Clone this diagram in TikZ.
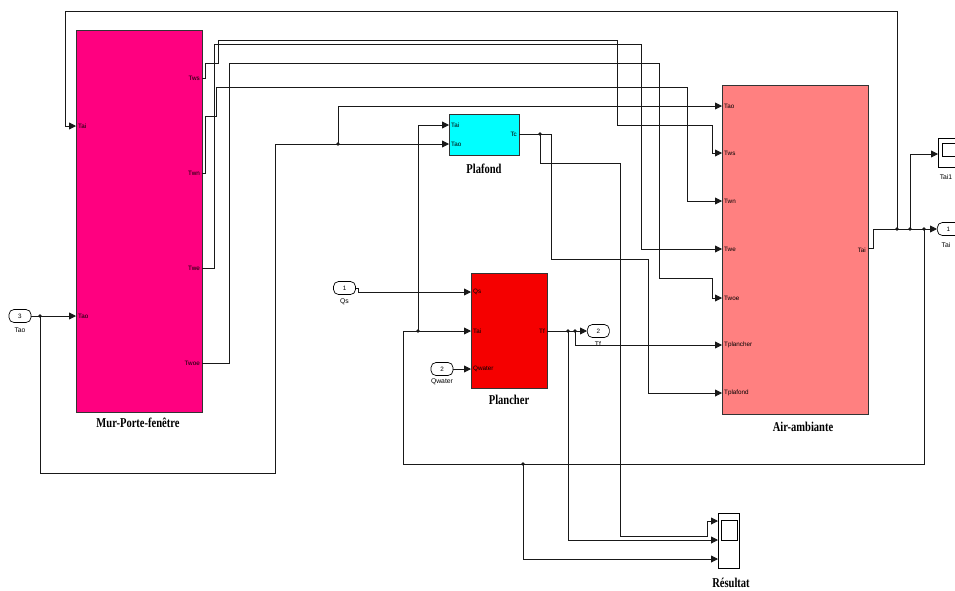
\documentclass[tikz,border=0pt]{standalone}
\usepackage{fontspec}
\setmainfont{Liberation Serif}
\setsansfont{Liberation Sans}
\usetikzlibrary{arrows.meta}
\definecolor{murc}{RGB}{255,0,128}
\definecolor{airc}{RGB}{255,128,128}
\definecolor{plac}{RGB}{0,255,255}
\definecolor{plnc}{RGB}{245,0,0}
\definecolor{wirec}{RGB}{25,25,25}
\begin{document}
\begin{tikzpicture}[x=1pt,y=-1pt,
  blk/.style={draw=black!80, line width=0.9pt, inner sep=0pt, outer sep=0pt, anchor=north west},
  plbl/.style={font=\sffamily\fontsize{6.3}{6.3}\selectfont, inner sep=1pt},
  blbl/.style={font=\bfseries\fontsize{13.5}{13.5}\selectfont, inner sep=0pt},
  wire/.style={draw=wirec, line width=0.85pt},
  arr/.style={wire, -{Triangle[length=7pt,width=7pt]}},
  jdot/.style={circle, fill=wirec, inner sep=0pt, minimum size=3.6pt},
  iport/.style={draw=black, line width=0.7pt, rounded corners=5pt, minimum width=22pt, minimum height=13pt, inner sep=0pt, font=\sffamily\fontsize{6.3}{6.3}\selectfont, fill=white},
  ilbl/.style={font=\sffamily\fontsize{6.8}{6.8}\selectfont, inner sep=0pt},
]
\clip (0,0) rectangle (955,590);
\fill[white] (0,0) rectangle (955,590);

% ---------- blocks ----------
\node[blk, fill=murc, minimum width=126pt, minimum height=382pt] (mur) at (76,30) {};
\node[blk, fill=airc, minimum width=146pt, minimum height=329pt] (air) at (722,85) {};
\node[blk, fill=plac, minimum width=70pt, minimum height=41pt] (pf) at (449,114) {};
\node[blk, fill=plnc, minimum width=76pt, minimum height=115pt] (pl) at (471,273) {};

% block titles
\node[blbl] (t-mur) at (138,423) {\scalebox{0.78}[1]{Mur-Porte-fenêtre}};
\node[blbl] (t-air) at (803,427) {\scalebox{0.78}[1]{Air-ambiante}};
\node[blbl] (t-pf) at (484,169) {\scalebox{0.78}[1]{Plafond}};
\node[blbl] (t-pl) at (509,400) {\scalebox{0.78}[1]{Plancher}};

% ---------- port coordinates ----------
\coordinate (mur-tai) at (76,126);
\coordinate (mur-tao) at (76,316);
\coordinate (mur-tws) at (202,78);
\coordinate (mur-twn) at (202,173);
\coordinate (mur-twe) at (202,268);
\coordinate (mur-twoe) at (202,363);
\coordinate (air-tao) at (722,106);
\coordinate (air-tws) at (722,153);
\coordinate (air-twn) at (722,201);
\coordinate (air-twe) at (722,249);
\coordinate (air-twoe) at (722,298);
\coordinate (air-tpl) at (722,345);
\coordinate (air-tpf) at (722,393);
\coordinate (air-tai) at (868,248);
\coordinate (pf-tai) at (449,125);
\coordinate (pf-tao) at (449,144);
\coordinate (pf-tc) at (519,134);
\coordinate (pl-qs) at (471,292);
\coordinate (pl-tai) at (471,331);
\coordinate (pl-qw) at (471,369);
\coordinate (pl-tf) at (547,331);

% port labels
\node[plbl, anchor=west] (l-mur-tai) at (77,126) {Tai};
\node[plbl, anchor=west] (l-mur-tao) at (77,316) {Tao};
\node[plbl, anchor=east] (l-mur-tws) at (201,78) {Tws};
\node[plbl, anchor=east] (l-mur-twn) at (201,173) {Twn};
\node[plbl, anchor=east] (l-mur-twe) at (201,268) {Twe};
\node[plbl, anchor=east] (l-mur-twoe) at (201,363) {Twoe};
\node[plbl, anchor=west] (l-air-tao) at (723,106) {Tao};
\node[plbl, anchor=west] (l-air-tws) at (723,153) {Tws};
\node[plbl, anchor=west] (l-air-twn) at (723,201) {Twn};
\node[plbl, anchor=west] (l-air-twe) at (723,249) {Twe};
\node[plbl, anchor=west] (l-air-twoe) at (723,298) {Twoe};
\node[plbl, anchor=west] (l-air-tpl) at (723,345) {Tplancher};
\node[plbl, anchor=west] (l-air-tpf) at (723,393) {Tplafond};
\node[plbl, anchor=east] (l-air-tai) at (867,250) {Tai};
\node[plbl, anchor=west] (l-pf-tai) at (450,125) {Tai};
\node[plbl, anchor=west] (l-pf-tao) at (450,144) {Tao};
\node[plbl, anchor=east] (l-pf-tc) at (518,134) {Tc};
\node[plbl, anchor=west] (l-pl-qs) at (472,292) {Qs};
\node[plbl, anchor=west] (l-pl-tai) at (472,331) {Tai};
\node[plbl, anchor=west] (l-pl-qw) at (472,369) {Qwater};
\node[plbl, anchor=east] (l-pl-tf) at (546,331) {Tf};

% ---------- in / out ports ----------
\node[iport] (in3) at (20,316) {3};
\node[ilbl] (l-in3) at (20,330) {Tao};
\node[iport] (in1) at (344.5,288) {1};
\node[ilbl] (l-in1) at (344.5,302) {Qs};
\node[iport] (in2) at (442,369) {2};
\node[ilbl] (l-in2) at (442,382) {Qwater};
\node[iport, anchor=west] (out2) at (587,331) {2};
\node[ilbl] (l-out2) at (598,344) {Tf};
\node[iport, anchor=west, minimum width=26pt] (out1) at (937,229) {\hspace*{-4pt}1};
\node[ilbl] (l-out1) at (946,245) {Tai};

% scopes
\node[draw=black, line width=0.7pt, fill=white, minimum width=26pt, minimum height=29pt, inner sep=0pt, anchor=north west] (sc1) at (938,138) {};
\node[draw=black, line width=0.7pt, minimum width=20pt, minimum height=13pt, inner sep=0pt, anchor=north west] (sc1s) at (942,143) {};
\node[ilbl] (l-sc1) at (946,177) {Tai1};
\node[draw=black, line width=0.7pt, fill=white, minimum width=21pt, minimum height=55pt, inner sep=0pt, anchor=north west] (res) at (718,513) {};
\node[draw=black, line width=0.7pt, minimum width=16pt, minimum height=20pt, inner sep=0pt, anchor=north west] (ress) at (721,520) {};
\node[blbl] (l-res) at (731,583) {\scalebox{0.78}[1]{Résultat}};
\coordinate (res-in1) at (718,521);
\coordinate (res-in2) at (718,540);
\coordinate (res-in3) at (718,559);
\coordinate (sc1-in) at (938,154);

% ---------- junction dots ----------
\node[jdot] (j-tao) at (40,316) {};
\node[jdot] (j-tao2) at (338,144) {};
\node[jdot] (j-tai1) at (897,229) {};
\node[jdot] (j-tai2) at (910,229) {};
\node[jdot] (j-tai3) at (924,229) {};
\node[jdot] (j-tai4) at (418,331) {};
\node[jdot] (j-tai5) at (523,464) {};
\node[jdot] (j-tc) at (540,134) {};
\node[jdot] (j-tf1) at (568,331) {};
\node[jdot] (j-tf2) at (575,331) {};

% ---------- wires ----------
% Tao
\draw[arr] (in3.east) -- (mur-tao);
\draw[wire] (j-tao.center) -- (40,473) -- (275,473) -- (275,144);
\draw[arr] (275,144) -- (pf-tao);
\draw[arr] (j-tao2.center) -- (338,106) -- (air-tao);

% Tai (Air output)
\draw[arr] (air-tai) -- (873,248) -- (873,229) -- (out1.west);
\draw[arr] (j-tai1.center) -- (897,11) -- (65,11) -- (65,126) -- (mur-tai);
\draw[arr] (j-tai2.center) -- (910,154) -- (sc1-in);
\draw[arr] (j-tai3.center) -- (924,464) -- (403,464) -- (403,331) -- (pl-tai);
\draw[arr] (j-tai4.center) -- (418,125) -- (pf-tai);
\draw[arr] (j-tai5.center) -- (523,559) -- (res-in3);

% Mur outputs
\draw[arr] (mur-tws) -- (205,78) -- (205,63) -- (218,63) -- (218,40) -- (617,40) -- (617,125) -- (712,125) -- (712,153) -- (air-tws);
\draw[arr] (mur-twn) -- (205,173) -- (205,116) -- (216.5,116) -- (216.5,87) -- (687,87) -- (687,201) -- (air-twn);
\draw[arr] (mur-twe) -- (214.5,268) -- (214.5,44) -- (641,44) -- (641,249) -- (air-twe);
\draw[arr] (mur-twoe) -- (229,363) -- (229,63) -- (659,63) -- (659,278) -- (712,278) -- (712,298) -- (air-twoe);

% Plafond Tc
\draw[arr] (pf-tc) -- (551,134) -- (551,259) -- (648,259) -- (648,393) -- (air-tpf);
\draw[arr] (j-tc.center) -- (540,163) -- (620,163) -- (620,536) -- (707,536) -- (707,521) -- (res-in1);

% Plancher Tf
\draw[arr] (pl-tf) -- (out2.west);
\draw[arr] (j-tf1.center) -- (568,540) -- (res-in2);
\draw[arr] (j-tf2.center) -- (575,345) -- (air-tpl);

% Qs, Qwater
\draw[arr] (in1.east) -- (358,288) -- (358,292) -- (pl-qs);
\draw[arr] (in2.east) -- (pl-qw);
\end{tikzpicture}
\end{document}
